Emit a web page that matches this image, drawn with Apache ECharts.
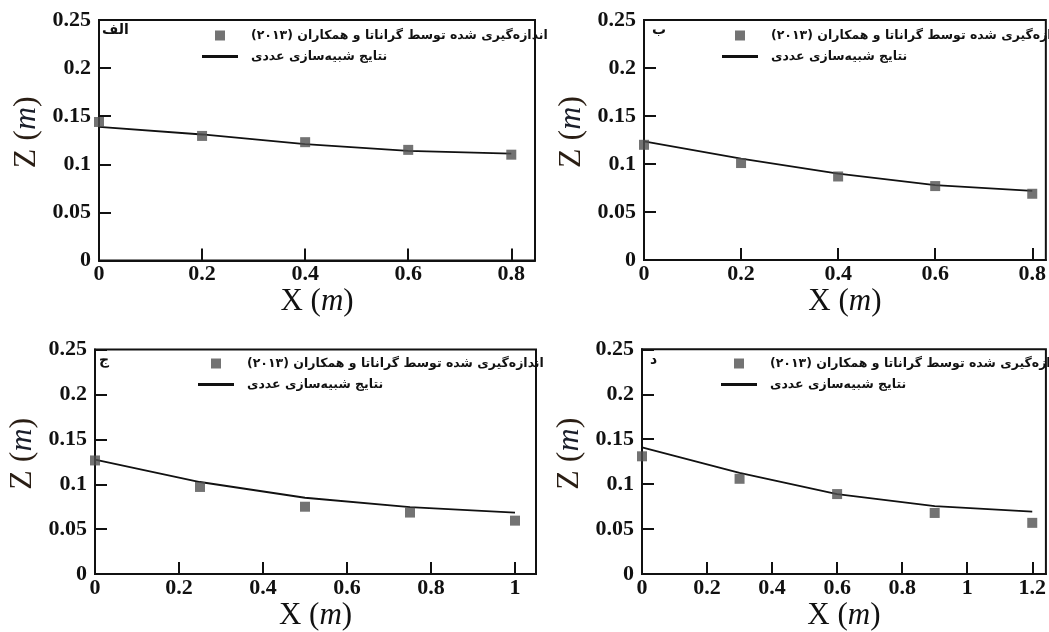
<!DOCTYPE html>
<html>
<head>
<meta charset="utf-8">
<script src="https://cdn.jsdelivr.net/npm/echarts@6/dist/echarts.min.js"></script>
<style>
html,body{margin:0;padding:0;background:#fff;}
#c{width:1049px;height:632px;}
</style>
</head>
<body>
<div id="c"></div>
<script>
// ---- data ----
const measName = '\u200Fاندازه\u200Cگیری شده توسط گراناتا و همکاران (۲۰۱۳)\u200F';
const simName = '\u200Fنتایج شبیه\u200Cسازی عددی\u200F';
const panelLetters = ['الف', 'ب', 'ج', 'د'];

const xA = [0, 0.2, 0.4, 0.6, 0.8];
const measA = [0.144, 0.1295, 0.123, 0.115, 0.110];
const simA = [0.139, 0.131, 0.121, 0.114, 0.111];

const xB = [0, 0.2, 0.4, 0.6, 0.8];
const measB = [0.120, 0.101, 0.087, 0.077, 0.069];
const simB = [0.1235, 0.1055, 0.090, 0.078, 0.072];

const xC = [0, 0.25, 0.5, 0.75, 1.0];
const measC = [0.1265, 0.097, 0.075, 0.0685, 0.0595];
const simC = [0.1275, 0.1025, 0.085, 0.0745, 0.0685];

const xD = [0, 0.3, 0.6, 0.9, 1.2];
const measD = [0.131, 0.106, 0.089, 0.068, 0.057];
const simD = [0.141, 0.1125, 0.089, 0.0755, 0.0695];

const xTickStep = 0.2;
const yTickStep = 0.05;
const yMax = 0.25;

// ---- layout (pixels) ----
const panels = [
  {x: xA, meas: measA, sim: simA, xmax: 0.846, grid: {left: 99, top: 20, width: 436, height: 240.5}, legend: {left: 202, top: 29}, letter: {left: 102, top: 23}},
  {x: xB, meas: measB, sim: simB, xmax: 0.828, grid: {left: 644, top: 20, width: 403, height: 240}, legend: {left: 722, top: 29}, letter: {left: 652, top: 23}},
  {x: xC, meas: measC, sim: simC, xmax: 1.05, grid: {left: 95, top: 349.5, width: 441, height: 232.7}, legend: {left: 198, top: 357}, letter: {left: 99, top: 353}},
  {x: xD, meas: measD, sim: simD, xmax: 1.242, grid: {left: 642, top: 349.3, width: 410, height: 232}, legend: {left: 721, top: 357}, letter: {left: 650, top: 353}}
];

const serif = 'Liberation Serif';
const arab = 'DejaVu Sans';
const ink = '#111';

const option = {
  animation: false,
  grid: [], xAxis: [], yAxis: [], series: [], legend: [], title: []
};

panels.forEach((p, i) => {
  option.grid.push(Object.assign({show: true, borderColor: ink, borderWidth: 2}, p.grid));
  option.xAxis.push({
    type: 'value', gridIndex: i, min: 0, max: p.xmax, interval: xTickStep,
    name: '{a|X (}{b|m}{a|)}', nameLocation: 'middle', nameGap: 22,
    nameTextStyle: {rich: {
      a: {fontFamily: serif, fontSize: 31, color: ink},
      b: {fontFamily: serif, fontSize: 31, fontStyle: 'italic', color: ink}
    }},
    axisLine: {show: true, lineStyle: {color: ink, width: 2}},
    axisTick: {show: true, inside: true, length: 12, lineStyle: {color: ink, width: 2}},
    axisLabel: {showMaxLabel: false, fontFamily: serif, fontWeight: 'bold', fontSize: 22, color: ink, margin: 3},
    splitLine: {show: false}
  });
  option.yAxis.push({
    type: 'value', gridIndex: i, min: 0, max: yMax, interval: yTickStep,
    name: '{a|Z (}{b|m}{a|)}', nameLocation: 'middle', nameGap: 56,
    nameTextStyle: {padding: [0, 0, 0, 16], rich: {
      a: {fontFamily: serif, fontSize: 32, color: '#2a1e14'},
      b: {fontFamily: serif, fontSize: 32, fontStyle: 'italic', color: '#1a1e2a'}
    }},
    axisLine: {show: true, lineStyle: {color: ink, width: 2}},
    axisTick: {show: true, inside: true, length: 12, lineStyle: {color: ink, width: 2}},
    axisLabel: {fontFamily: serif, fontWeight: 'bold', fontSize: 22, color: ink, margin: 8},
    splitLine: {show: false}
  });
  option.series.push({
    type: 'scatter', name: measName, xAxisIndex: i, yAxisIndex: i,
    symbol: 'rect', symbolSize: 10, itemStyle: {color: '#505050'},
    data: p.x.map((v, k) => [v, p.meas[k]]), z: 3
  });
  option.series.push({
    type: 'line', name: simName, xAxisIndex: i, yAxisIndex: i,
    symbol: 'none', showSymbol: false, lineStyle: {color: '#111', width: 1.8}, itemStyle: {color: '#111'},
    data: p.x.map((v, k) => [v, p.sim[k]]), z: 2
  });
  option.legend.push({
    orient: 'vertical', left: p.legend.left, top: p.legend.top,
    itemWidth: 36, itemHeight: 10, itemGap: 8, selectedMode: false,
    padding: 0,
    textStyle: {fontFamily: arab, fontSize: 12.5, fontWeight: 'bold', color: ink, padding: [0, 0, 0, 8]},
    data: [
      {name: measName, icon: 'path://M0,0h10v10h-10z'},
      {name: simName, icon: 'path://M0,0h12v1h-12z'}
    ]
  });
  option.title.push({
    text: panelLetters[i], left: p.letter.left, top: p.letter.top, padding: 0,
    textStyle: {fontFamily: arab, fontSize: 14, fontWeight: 'bold', color: ink}
  });
});

const chart = echarts.init(document.getElementById('c'), null, {renderer: 'canvas'});
chart.setOption(option);
</script>
</body>
</html>
